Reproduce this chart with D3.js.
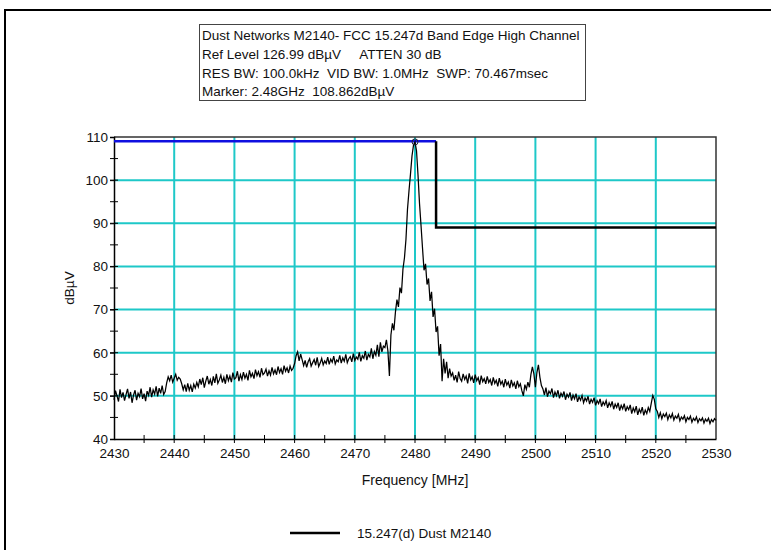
<!DOCTYPE html>
<html>
<head>
<meta charset="utf-8">
<script src="https://cdn.jsdelivr.net/npm/d3@7"></script>
<style>
  html, body { margin: 0; padding: 0; background: #ffffff; overflow: hidden; }
  svg { display: block; }
  text { font-family: "Liberation Sans", Arial, sans-serif; fill: #111; }
</style>
</head>
<body>
<script>
// ---- data ----
const headerLines = [
  "Dust Networks M2140- FCC 15.247d Band Edge High Channel",
  "Ref Level 126.99 dB\u00b5V     ATTEN 30 dB",
  "RES BW: 100.0kHz  VID BW: 1.0MHz  SWP: 70.467msec",
  "Marker: 2.48GHz  108.862dB\u00b5V"
];
const xTicks = [2430, 2440, 2450, 2460, 2470, 2480, 2490, 2500, 2510, 2520, 2530];
const yTicks = [40, 50, 60, 70, 80, 90, 100, 110];
const xLabel = "Frequency [MHz]";
const yLabel = "dB\u00b5V";
const legendLabel = "15.247(d) Dust M2140";

// sweep grid: first sample frequency and spacing (MHz)
const sweepStart = 2430;
const sweepStep = 0.25;

// measured level per sweep sample (dBµV)
const levels = [
  // 2430 – 2438.5
  49.1, 51.2, 50.0, 48.7, 51.5, 49.6, 50.8, 48.9, 50.3, 51.6,
  49.4, 50.9, 48.4, 50.2, 51.3, 49.0, 50.6, 49.8, 51.7, 49.3,
  50.5, 48.8, 51.1, 50.1, 52.0, 49.7, 51.4, 50.4, 52.2, 49.9,
  51.8, 50.6, 52.4, 50.3, 51.0,
  // 2438.75 – 2441.25
  53.0, 54.4, 53.5, 54.8, 53.2, 54.1, 55.0, 53.6, 54.3, 53.9, 52.8,
  // 2441.5 – 2443.75
  51.4, 52.6, 51.0, 52.9, 51.3, 52.4, 50.9, 52.7, 51.8, 53.1,
  // 2444 – 2459.75
  52.1, 53.9, 52.6, 54.2, 51.9, 53.4, 54.6, 52.7, 53.8, 52.4,
  54.5, 53.0, 55.1, 52.9, 53.7, 54.8, 53.1, 54.3, 52.8, 55.0,
  53.5, 54.6, 53.2, 55.4, 53.9, 54.2, 55.7, 53.4, 54.9, 53.8,
  55.5, 54.1, 55.0, 53.6, 55.9, 54.4, 55.2, 54.0, 56.1, 54.7,
  55.6, 54.3, 56.4, 54.9, 55.3, 56.2, 54.6, 55.8, 54.8, 56.6,
  55.1, 56.0, 54.9, 56.8, 55.4, 56.3, 55.0, 57.0, 55.7, 56.5,
  55.3, 56.9, 55.9, 56.4,
  // 2460 – 2461.25
  57.5, 59.3, 60.2, 58.1, 59.7, 58.4,
  // 2461.5 – 2474.75
  57.0, 58.2, 56.6, 57.9, 58.6, 56.9, 57.7, 58.4, 57.1, 58.9,
  56.8, 57.6, 58.7, 57.2, 58.1, 57.5, 59.0, 57.3, 58.5, 57.8,
  59.2, 57.4, 58.3, 57.9, 59.4, 57.6, 58.8, 58.0, 59.6, 57.7,
  58.6, 59.1, 57.9, 59.8, 58.2, 59.0, 58.5, 60.1, 58.0, 59.3,
  58.7, 60.4, 58.3, 59.6, 59.0, 61.0, 58.6, 60.3, 59.4, 61.8,
  59.1, 62.4, 60.2, 61.5,
  // 2475 – 2479.75 (rising edge)
  61.2, 63.0, 60.4, 54.6, 64.1, 66.8, 65.2, 69.4, 72.3, 70.6,
  75.1, 73.8, 79.4, 82.0, 86.3, 93.2, 97.5, 101.4, 105.6, 108.1,
  // 2480 (marker)
  108.862,
  // 2480.25 – 2486 (falling edge)
  106.8, 101.2, 94.6, 89.5, 84.2, 79.1, 80.6, 75.8, 77.2, 72.0,
  74.1, 68.3, 70.2, 64.8, 66.1, 59.3, 62.0, 53.4, 58.6, 55.2,
  57.9, 54.1, 56.3, 54.6,
  // 2486.25 – 2499
  55.3, 53.6, 54.8, 53.1, 55.6, 54.0, 53.4, 55.1, 53.8, 54.6,
  52.9, 55.2, 53.7, 54.4, 53.0, 54.9, 53.5, 54.2, 52.6, 54.7,
  53.3, 54.0, 52.8, 54.5, 53.1, 53.8, 52.4, 54.3, 52.9, 53.6,
  52.2, 54.1, 52.7, 53.4, 52.0, 53.9, 52.5, 53.2, 51.8, 53.7,
  52.3, 53.0, 51.6, 53.5, 52.1, 52.8, 51.2, 50.0, 52.6, 51.5,
  53.2, 52.0,
  // 2499.25 – 2501
  54.9, 56.7, 55.1, 52.0, 55.4, 57.2, 54.3, 52.4,
  // 2501.25 – 2519
  51.6, 50.2, 51.9, 49.8, 51.1, 50.5, 51.7, 49.6, 50.9, 50.0,
  51.3, 49.4, 50.6, 49.9, 51.0, 49.1, 50.4, 49.7, 50.8, 48.9,
  50.2, 49.3, 50.5, 48.6, 49.8, 49.0, 50.1, 48.4, 49.5, 48.8,
  49.9, 48.1, 49.2, 48.5, 49.6, 47.8, 48.9, 48.2, 49.3, 47.5,
  48.6, 47.9, 48.9, 47.2, 48.4, 47.6, 48.7, 46.9, 48.1, 47.3,
  48.4, 46.6, 47.8, 47.0, 48.2, 46.4, 47.5, 46.8, 47.9, 45.9,
  47.2, 46.3, 47.6, 45.6, 46.9, 46.1, 47.4, 45.5, 46.7, 45.9,
  47.3, 46.4,
  // 2519.25 – 2520
  48.3, 50.1, 49.2, 47.0,
  // 2520.25 – 2530
  46.4, 45.0, 46.1, 44.7, 45.8, 45.2, 46.0, 44.5, 45.6, 44.9,
  45.9, 44.4, 45.3, 44.8, 45.7, 44.2, 45.1, 44.6, 45.4, 44.0,
  45.0, 44.5, 45.3, 43.9, 44.8, 44.3, 45.1, 43.8, 44.7, 44.2,
  44.9, 43.7, 44.6, 44.1, 44.8, 43.6, 44.5, 44.0, 44.7, 44.3
];

// limit lines: [frequency MHz, level dBµV]
const limitInBand = [[2430, 109], [2483.5, 109]];
const limitBandEdge = [[2483.5, 109], [2483.5, 89], [2530, 89]];
const marker = [2480, 108.862];

// ---- layout ----
const W = 771, H = 550;
const plot = { left: 114, right: 716, top: 137, bottom: 439 };
const fontSize = 13.5;

const svg = d3.select("body").append("svg")
  .attr("width", W).attr("height", H);

// outer frame (top and left edges fall inside the page)
svg.append("path")
  .attr("d", `M5,${H}V10H${W}`)
  .attr("fill", "none").attr("stroke", "#000").attr("stroke-width", 2);

const x = d3.scaleLinear().domain([2430, 2530]).range([plot.left, plot.right]);
const y = d3.scaleLinear().domain([40, 110]).range([plot.bottom, plot.top]);

// header box
const hdr = svg.append("g");
hdr.append("rect")
  .attr("x", 199.5).attr("y", 24.5).attr("width", 386).attr("height", 76)
  .attr("fill", "#fff").attr("stroke", "#444").attr("stroke-width", 1);
hdr.selectAll("text").data(headerLines).join("text")
  .attr("x", 202)
  .attr("y", (d, i) => 40 + i * 18.8)
  .attr("font-size", fontSize)
  .attr("xml:space", "preserve")
  .style("white-space", "pre")
  .text(d => d);

// grid
const gridColor = "#1ec8c8";
svg.append("g").selectAll("line").data(xTicks.slice(1, -1)).join("line")
  .attr("x1", d => x(d)).attr("x2", d => x(d))
  .attr("y1", plot.top).attr("y2", plot.bottom)
  .attr("stroke", gridColor).attr("stroke-width", 2);
svg.append("g").selectAll("line").data(yTicks.slice(1, -1)).join("line")
  .attr("x1", plot.left).attr("x2", plot.right)
  .attr("y1", d => y(d)).attr("y2", d => y(d))
  .attr("stroke", gridColor).attr("stroke-width", 2);

// plot frame (top and right)
svg.append("path")
  .attr("d", `M${plot.left},${plot.top}H${plot.right}V${plot.bottom}`)
  .attr("fill", "none").attr("stroke", "#333").attr("stroke-width", 1.5);

// axes
const xMinor = d3.range(2435, 2530, 5);
const yMinor = d3.range(45, 110, 5);

const xAxis = d3.axisBottom(x).tickValues(xTicks).tickSize(0).tickPadding(9)
  .tickFormat(d3.format("d"));
const gx = svg.append("g").attr("transform", `translate(0,${plot.bottom})`).call(xAxis);
gx.select(".domain").attr("stroke", "#000").attr("stroke-width", 1.5);
gx.selectAll("text").attr("font-size", fontSize)
  .attr("font-family", "Liberation Sans, Arial, sans-serif").attr("fill", "#111");
gx.selectAll(".minor").data(xMinor).join("line").attr("class", "minor")
  .attr("x1", d => x(d)).attr("x2", d => x(d))
  .attr("y1", -4).attr("y2", 4)
  .attr("stroke", "#000").attr("stroke-width", 1);

const yAxis = d3.axisLeft(y).tickValues(yTicks).tickSize(4).tickPadding(2);
const gy = svg.append("g").attr("transform", `translate(${plot.left},0)`).call(yAxis);
gy.select(".domain").attr("stroke", "#000").attr("stroke-width", 1.5);
gy.selectAll(".tick line").attr("stroke", "#000");
gy.selectAll("text").attr("font-size", fontSize)
  .attr("font-family", "Liberation Sans, Arial, sans-serif").attr("fill", "#111");
gy.selectAll(".minor").data(yMinor).join("line").attr("class", "minor")
  .attr("x1", -4).attr("x2", 4)
  .attr("y1", d => y(d)).attr("y2", d => y(d))
  .attr("stroke", "#000").attr("stroke-width", 1);

// axis titles
svg.append("text")
  .attr("x", (plot.left + plot.right) / 2).attr("y", 485)
  .attr("text-anchor", "middle").attr("font-size", 14)
  .text(xLabel);
svg.append("text")
  .attr("transform", `translate(74,${(plot.top + plot.bottom) / 2}) rotate(-90)`)
  .attr("text-anchor", "middle").attr("font-size", fontSize)
  .text(yLabel);

// limit lines
const line = d3.line().x(d => x(d[0])).y(d => y(d[1]));
svg.append("path").datum(limitInBand)
  .attr("d", line).attr("fill", "none")
  .attr("stroke", "#1010e0").attr("stroke-width", 2.5);
svg.append("path").datum(limitBandEdge)
  .attr("d", line).attr("fill", "none")
  .attr("stroke", "#000").attr("stroke-width", 2.5);

// trace
const trace = levels.map((v, i) => [sweepStart + i * sweepStep, v]);
svg.append("path").datum(trace)
  .attr("d", line).attr("fill", "none")
  .attr("stroke", "#000").attr("stroke-width", 1.25)
  .attr("stroke-linejoin", "miter");

// peak marker
svg.append("circle")
  .attr("cx", x(marker[0])).attr("cy", y(marker[1])).attr("r", 3)
  .attr("fill", "none").attr("stroke", "#223").attr("stroke-width", 1);

// legend
svg.append("line")
  .attr("x1", 290).attr("x2", 340).attr("y1", 533).attr("y2", 533)
  .attr("stroke", "#000").attr("stroke-width", 2.5);
svg.append("text")
  .attr("x", 357).attr("y", 538).attr("font-size", fontSize)
  .text(legendLabel);
</script>
</body>
</html>
